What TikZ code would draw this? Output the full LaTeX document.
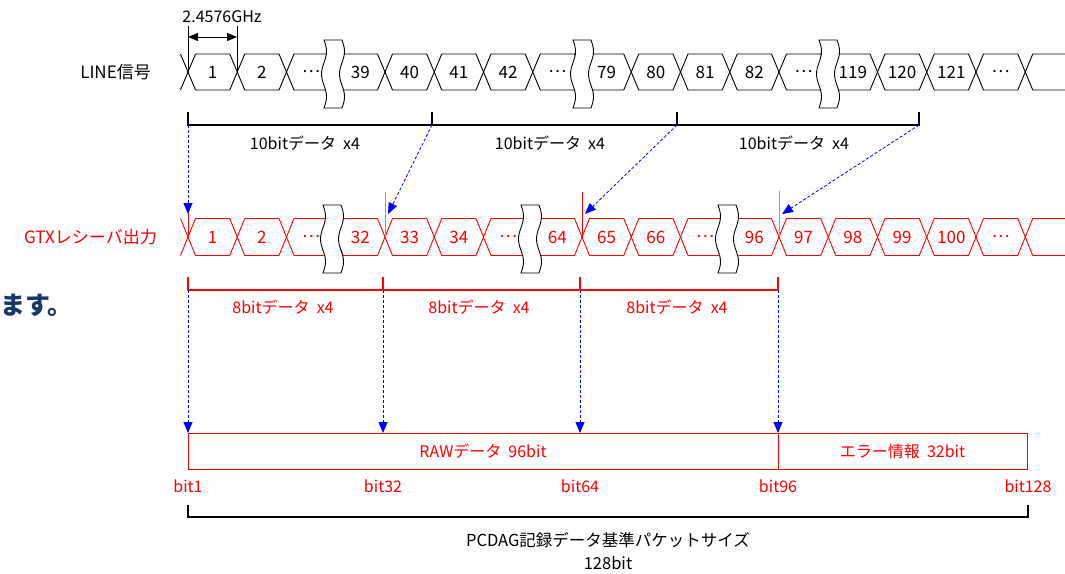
\documentclass[tikz,border=0pt]{standalone}
\usepackage{fontspec}
\setmainfont{Noto Sans CJK JP}
\usetikzlibrary{arrows.meta}
\definecolor{navy}{RGB}{22,54,104}
\definecolor{arrowblue}{RGB}{0,0,255}
\definecolor{pinkred}{RGB}{255,110,110}
\begin{document}
\begin{tikzpicture}[x=1pt,y=-1pt,
  blk/.style={draw=black,line width=0.9pt},
  rd/.style={draw=red,line width=0.9pt},
  celltext/.style={inner sep=0pt,font=\fontsize{17}{19}\selectfont},
  lbl/.style={inner sep=0pt,font=\fontsize{16}{18}\selectfont},
  bracketb/.style={draw=black,line width=2pt},
  bracketr/.style={draw=red,line width=2pt},
  bluearr/.style={draw=arrowblue,line width=0.8pt,dash pattern=on 3pt off 2pt,-{Triangle[length=11pt,width=9pt,fill=arrowblue]}},
  dimarr/.style={draw=black,line width=1pt,{Triangle[length=10pt,width=8pt]}-{Triangle[length=10pt,width=8pt]}},
  pics/wavebreak/.style={code={
    \path[fill=white,draw=black,line width=0.9pt]
      plot[smooth,domain=0:1,samples=25] ({-9+2.5*sin(540*\x)},{-34+68*\x})
      -- plot[smooth,domain=1:0,samples=25] ({9+2.5*sin(540*\x)},{-34+68*\x}) -- cycle;
  }}
]
\useasboundingbox (0,0) rectangle (1065,573);

% ---------- LINE signal row ----------
\node[lbl,anchor=east,font=\fontsize{17}{19}\selectfont] (linelbl) at (151,72) {LINE信号};
\foreach \lab [count=\i from 0] in {1,2,…,39,40,41,42,…,79,80,81,82,…,119,120,121,…}{
  \pgfmathsetmacro\a{188+49.25*\i}
  \pgfmathsetmacro\b{\a+49.25}
  \draw[blk] (\a,72) -- (\a+7.5,54) -- (\b-7.5,54) -- (\b,72) -- (\b-7.5,90) -- (\a+7.5,90) -- cycle;
  \node[celltext] (top\i) at ({(\a+\b)/2},72) {\lab};
}
\draw[blk] (180.5,54) -- (188,72) -- (180.5,90);
\draw[blk] (1066,54) -- (1032.75,54) -- (1025.25,72) -- (1032.75,90) -- (1066,90);
\pic at (333,74) {wavebreak};
\pic at (582,74) {wavebreak};
\pic at (828,74) {wavebreak};

% dimension
\coordinate (dA) at (188,26);
\coordinate (dB) at (237,26);
\draw[blk] (dA) -- (188,72);
\draw[blk] (dB) -- (237,72);
\draw[dimarr] (188,37) -- (237,37);
\node[lbl,font=\fontsize{16}{18}\selectfont] (ghz) at (222,17) {2.4576GHz};

% top bracket
\coordinate (tb0) at (188,125);
\coordinate (tb1) at (432,125);
\coordinate (tb2) at (677,125);
\coordinate (tb3) at (919,125);
\draw[bracketb] (188,112) -- (tb0) -- (tb3) -- (919,112);
\draw[bracketb] (tb1) -- (432,112);
\draw[bracketb] (tb2) -- (677,112);
\node[lbl] (tl1) at (305,143) {10bitデータ\ \ x4};
\node[lbl] (tl2) at (550,143) {10bitデータ\ \ x4};
\node[lbl] (tl3) at (794,143) {10bitデータ\ \ x4};

% ---------- GTX receiver row ----------
\node[lbl,anchor=east,text=red,font=\fontsize{17}{19}\selectfont] (gtxlbl) at (157,237) {GTXレシーバ出力};
\foreach \lab [count=\i from 0] in {1,2,…,32,33,34,…,64,65,66,…,96,97,98,99,100,…}{
  \pgfmathsetmacro\a{188+49.25*\i}
  \pgfmathsetmacro\b{\a+49.25}
  \draw[rd] (\a,237) -- (\a+7.5,218.5) -- (\b-7.5,218.5) -- (\b,237) -- (\b-7.5,255.5) -- (\a+7.5,255.5) -- cycle;
  \node[celltext,text=red] (red\i) at ({(\a+\b)/2},237) {\lab};
}
\draw[rd] (180.5,218.5) -- (188,237) -- (180.5,255.5);
\draw[rd] (1066,218.5) -- (1032.75,218.5) -- (1025.25,237) -- (1032.75,255.5) -- (1066,255.5);
\pic at (332,239) {wavebreak};
\pic at (530,239) {wavebreak};
\pic at (727,239) {wavebreak};

% markers
\draw[red,line width=1pt] (188,207) -- (188,237);
\draw[pinkred,line width=1pt] (385,192) -- (385,237);
\draw[red,line width=1pt] (582,192) -- (582,237);
\draw[pinkred,line width=1pt] (779.5,191) -- (779.5,237);
\coordinate (m0) at (188,214);
\coordinate (m1) at (388,214);
\coordinate (m2) at (585,214);
\coordinate (m3) at (782,214);
\draw[bluearr] (tb0) -- (m0);
\draw[bluearr] (tb1) -- (m1);
\draw[bluearr] (tb2) -- (m2);
\draw[bluearr] (tb3) -- (m3);

% red bracket
\coordinate (rb0) at (188,290);
\coordinate (rb1) at (383,290);
\coordinate (rb2) at (580,290);
\coordinate (rb3) at (778,290);
\draw[bracketr] (188,277) -- (rb0) -- (rb3) -- (778,277);
\draw[bracketr] (rb1) -- (383,277);
\draw[bracketr] (rb2) -- (580,277);
\node[lbl,text=red] (rl1) at (283,307) {8bitデータ\ \ x4};
\node[lbl,text=red] (rl2) at (479,307) {8bitデータ\ \ x4};
\node[lbl,text=red] (rl3) at (677,307) {8bitデータ\ \ x4};

% text at left edge
\node[anchor=west,inner sep=0pt,text=navy,font=\fontsize{25}{27}\bfseries] (masu) at (0,305) {ます。};

% ---------- packet box ----------
\node[rd,minimum width=590pt,minimum height=36pt,inner sep=0pt,text=red,font=\fontsize{16}{18}\selectfont] (raw) at (483,451) {RAWデータ\ \ 96bit};
\node[rd,minimum width=249pt,minimum height=36pt,inner sep=0pt,text=red,font=\fontsize{16}{18}\selectfont] (err) at (902.5,451) {エラー情報\ \ 32bit};
\coordinate (p0) at (188,433);
\coordinate (p1) at (383,433);
\coordinate (p2) at (580,433);
\coordinate (p3) at (778,433);
\draw[bluearr] (rb0) -- (p0);
\draw[bluearr] (rb1) -- (p1);
\draw[bluearr] (rb2) -- (p2);
\draw[bluearr] (rb3) -- (p3);

\node[lbl,text=red] (b1) at (188,486) {bit1};
\node[lbl,text=red] (b32) at (383,486) {bit32};
\node[lbl,text=red] (b64) at (580,486) {bit64};
\node[lbl,text=red] (b96) at (778,486) {bit96};
\node[lbl,text=red] (b128) at (1028,486) {bit128};

% bottom bracket
\coordinate (bb0) at (188,517);
\coordinate (bb1) at (1028,517);
\draw[bracketb] (188,505) -- (bb0) -- (bb1) -- (1028,505);
\node[lbl,font=\fontsize{16.5}{18}\selectfont] (pk1) at (608,540) {PCDAG記録データ基準パケットサイズ};
\node[lbl,font=\fontsize{16.5}{18}\selectfont] (pk2) at (608,563) {128bit};
\end{tikzpicture}
\end{document}
